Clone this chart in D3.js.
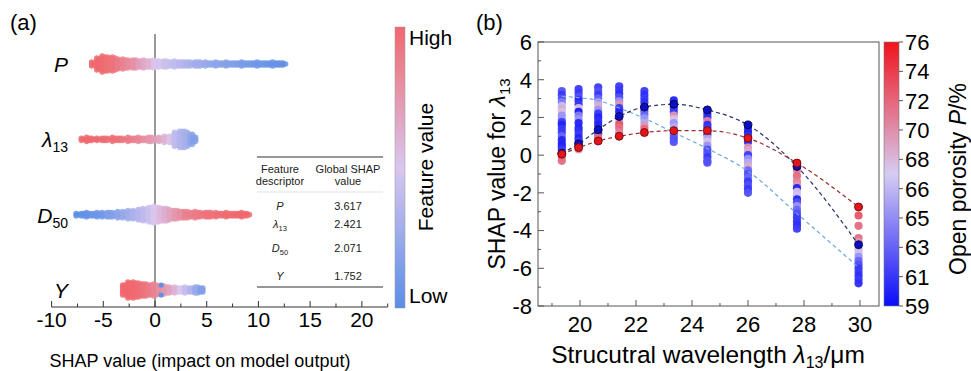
<!DOCTYPE html>
<html>
<head>
<meta charset="utf-8">
<script src="https://cdn.jsdelivr.net/npm/d3@7"></script>
<style>
  html, body { margin: 0; padding: 0; background: #fff; }
  svg { display: block; font-family: "Liberation Sans", Arial, sans-serif; }
</style>
</head>
<body>
<svg id="chart" width="971" height="371"></svg>
<script>
// ---------- Panel (a): SHAP summary (beeswarm) ----------
// Each bin: [SHAP value, number of samples, normalised feature value 0..1]
const swarmP = [
  [-6,5,1],[-5.5,13,1],[-5,17,0.98],[-4.5,15,0.96],[-4,15,0.94],[-3.5,11,0.9],[-3,11,0.86],
  [-2.5,9,0.82],[-2,10,0.78],[-1.5,8,0.72],[-1,9,0.66],[-0.5,8,0.6],[0,9,0.52],[0.5,7,0.48],
  [1,8,0.45],[1.5,6,0.42],[2,7,0.4],[2.5,6,0.37],[3,6,0.34],[3.5,5,0.31],[4,6,0.28],
  [4.5,5,0.26],[5,5,0.24],[5.5,4,0.22],[6,5,0.2],[6.5,4,0.18],[7,5,0.16],[7.5,4,0.15],
  [8,4,0.14],[8.5,5,0.12],[9,4,0.11],[9.5,4,0.1],[10,5,0.08],[10.5,4,0.07],[11,4,0.06],
  [11.5,5,0.05],[12,4,0.04],[12.5,3,0.03]
];
const swarmLambda = [
  [-7,3,1],[-6.5,5,1],[-6,3,1],[-5.5,3,1],[-5,4,0.98],[-4.5,3,0.97],[-4,5,0.96],[-3.5,4,0.95],
  [-3,3,0.93],[-2.5,5,0.9],[-2,4,0.87],[-1.5,5,0.84],[-1,4,0.8],[-0.5,6,0.76],[0,4,0.72],
  [0.5,5,0.66],[1,7,0.6],[1.5,8,0.52],[2,15,0.4],[2.5,18,0.34],[3,17,0.3],[3.5,12,0.22],[3.8,6,0.15]
];
const swarmD50 = [
  [-7.5,3,0],[-7,4,0.02],[-6.5,5,0.04],[-6,4,0.06],[-5.5,5,0.08],[-5,5,0.1],[-4.5,6,0.13],
  [-4,5,0.16],[-3.5,7,0.2],[-3,7,0.24],[-2.5,9,0.28],[-2,9,0.32],[-1.5,12,0.36],[-1,13,0.4],
  [-0.5,16,0.45],[0,17,0.5],[0.5,15,0.56],[1,14,0.62],[1.5,11,0.68],[2,10,0.75],[2.5,8,0.8],
  [3,8,0.85],[3.5,6,0.88],[4,7,0.9],[4.5,5,0.92],[5,6,0.94],[5.5,5,0.95],[6,5,0.96],
  [6.5,4,0.97],[7,5,0.98],[7.5,4,0.99],[8,4,1],[8.5,5,1],[9,3,1]
];
const swarmY = [
  [-3,12,1],[-2.5,17,1],[-2,17,0.99],[-1.5,15,0.97],[-1,14,0.94],[-0.5,12,0.9],[0,13,0.85],
  [0.5,10,0.8],[1,9,0.74],[1.5,7,0.68],[2,7,0.6],[2.5,6,0.5],[3,7,0.42],[3.5,6,0.34],
  [4,8,0.24],[4.5,6,0.15]
];
// isolated low-value samples sitting on the rim of the Y swarm: [SHAP, feature]
const swarmYRim = [[0.6,0.02],[0.6,0.02]];

const featureNames = ["P", "λ13", "D50", "Y"];
const globalShap = ["3.617", "2.421", "2.071", "1.752"];
const shapTicks = [-10, -5, 0, 5, 10, 15, 20];

// ---------- Panel (b): SHAP dependence for λ13 ----------
const wavelengths = [19.35, 19.95, 20.65, 21.4, 22.3, 23.35, 24.55, 26.0, 27.75, 29.95];
// per wavelength: [SHAP value, open porosity %]
const samplesByWavelength = [
  [[3.4,62],[3.2,61],[3.0,62],[2.8,64],[2.6,67],[2.45,69],[2.3,68],[2.1,65],[1.9,65],[1.75,61],[1.6,60],[1.4,61],[1.2,61],[1.0,63],[0.8,60],[0.6,60],[0.45,60],[0.3,61],[-0.1,71],[-0.3,72]],
  [[3.5,61],[3.3,61],[3.1,62],[2.9,60],[2.7,61],[2.5,68],[2.3,59.5],[2.1,64],[1.9,65],[1.7,60],[1.45,60],[1.3,60.5],[1.1,61],[0.9,60],[0.75,61],[0.3,70]],
  [[3.6,61],[3.4,62],[3.2,61],[3.0,63],[2.8,66],[2.6,69],[2.4,65],[2.2,61],[2.0,60],[1.8,60.5],[1.6,60],[1.15,61],[0.95,72]],
  [[3.65,61],[3.45,61],[3.25,60.5],[3.05,62],[2.85,65],[2.7,70],[2.5,61],[2.3,60],[1.85,68],[1.65,73],[1.45,72],[1.2,71]],
  [[3.4,61],[3.2,60.5],[3.0,61],[2.8,60.5],[2.35,62],[2.15,63],[1.95,65],[1.75,66],[1.55,70],[1.4,72]],
  [[2.9,60],[2.5,60.5],[2.3,61],[2.1,70],[1.9,68],[1.7,65],[1.5,66],[1.1,63],[0.9,62],[0.7,62]],
  [[2.2,60],[2.0,60.5],[1.8,71],[1.6,60.5],[1.45,61],[1.1,61],[0.9,66],[0.7,68],[0.5,65],[0.3,62],[0.1,62],[-0.1,61],[-0.3,62],[-0.4,62]],
  [[1.35,60.5],[1.2,60],[1.0,61],[0.7,60.5],[0.4,70],[0.2,69],[0.0,61],[-0.2,65],[-0.4,66],[-0.6,69],[-0.8,63],[-1.0,62],[-1.2,63],[-1.4,61],[-1.6,62],[-1.8,61],[-2.0,62]],
  [[-0.55,73],[-0.8,71],[-1.1,72],[-1.4,71],[-1.6,70],[-1.75,60],[-1.95,68],[-2.15,67],[-2.35,60],[-2.5,62],[-2.7,65],[-2.9,63],[-3.1,62],[-3.3,61],[-3.5,61],[-3.7,60.5],[-3.9,61]],
  [[-3.2,73],[-3.75,72],[-4.4,72],[-4.6,70],[-5.0,69],[-5.2,67],[-5.4,65],[-5.6,63],[-5.8,62],[-6.0,61],[-6.2,61],[-6.4,60.5],[-6.6,61],[-6.8,60.5]]
];
// fitted trends across wavelengths
const lowPorosityShap  = [0.1, 0.6, 1.35, 2.05, 2.55, 2.7, 2.4, 1.6, -0.6, -4.75];
const highPorosityShap = [0.05, 0.4, 0.75, 1.0, 1.2, 1.3, 1.3, 0.9, -0.42, -2.75];
const overallTrendShap = [3.12, 3.05, 2.9, 2.5, 1.95, 1.2, 0.35, -0.85, -3.1, -5.95];
const porosityTicks = ["76", "74", "72", "70", "68", "66", "65", "63", "61", "59"];

const svg = d3.select("#chart");
const defs = svg.append("defs");
defs.append("filter").attr("id", "soft").attr("x", "-5%").attr("y", "-30%").attr("width", "110%").attr("height", "160%")
  .append("feGaussianBlur").attr("stdDeviation", 0.45);

// ======================= Panel (a) =======================
const xA = d3.scaleLinear().domain([-10, 22.5]).range([51.6, 387.7]);
const rowY = d3.scalePoint().domain(featureNames).range([64, 290]);
const featColor = d3.scaleLinear().domain([0, 0.5, 1])
  .range(["#5b8ee6", "#d9c6ef", "#f0686d"]).interpolate(d3.interpolateRgb);

svg.append("text").attr("x", 10).attr("y", 30).attr("font-size", 22).text("(a)");

// zero reference line
svg.append("line").attr("x1", xA(0)).attr("x2", xA(0)).attr("y1", 34).attr("y2", 307)
  .attr("stroke", "#333").attr("stroke-width", 1);

function expandSwarm(bins, cy) {
  const dots = [];
  bins.forEach(([s, n, f]) => {
    const cols = [Math.ceil(n / 2), Math.floor(n / 2)];
    cols.forEach((m, c) => {
      for (let k = 0; k < m; k++) {
        dots.push({ x: xA(s) + (c ? 1.3 : -1.3), y: cy + (k - (m - 1) / 2) * 2, f });
      }
    });
  });
  return dots;
}

const swarmSets = [swarmP, swarmLambda, swarmD50, swarmY];
const gSwarm = svg.append("g").attr("filter", "url(#soft)");
swarmSets.forEach((bins, i) => {
  const cy = rowY(featureNames[i]);
  gSwarm.append("g").selectAll("circle").data(expandSwarm(bins, cy)).join("circle")
    .attr("cx", d => d.x).attr("cy", d => d.y).attr("r", 2.8)
    .attr("fill", d => featColor(d.f)).attr("fill-opacity", 0.85);
});
// rim samples of Y
{
  const cy = rowY("Y");
  const bin = swarmY.find(b => b[0] === 0.5);
  const half = (Math.ceil(bin[1] / 2) - 1);
  gSwarm.append("g").selectAll("circle").data(swarmYRim).join("circle")
    .attr("cx", d => xA(d[0])).attr("cy", (d, i) => cy + (i ? half : -half) + (i ? 1 : -1))
    .attr("r", 2.6).attr("fill", d => featColor(d[1]));
}

// feature labels on the left
function featureLabel(sel, name, subSize, shift) {
  const letter = name[0], sub = name.slice(1);
  sel.append("tspan").attr("font-style", "italic").text(letter);
  if (sub) sel.append("tspan").attr("dy", shift).attr("font-size", subSize).text(sub);
}
featureNames.forEach(name => {
  const t = svg.append("text").attr("x", 68).attr("y", rowY(name) + 8)
    .attr("text-anchor", "end").attr("font-size", 21);
  featureLabel(t, name, 14, 5);
});

// x axis (ticks pointing up)
const gAxA = svg.append("g").attr("transform", "translate(0,307)");
gAxA.append("line").attr("x1", xA(-10)).attr("x2", xA(22.5)).attr("stroke", "#333");
gAxA.selectAll("line.maj").data(shapTicks).join("line").attr("class", "maj")
  .attr("x1", d => xA(d)).attr("x2", d => xA(d)).attr("y1", 0).attr("y2", -6).attr("stroke", "#333");
gAxA.selectAll("line.min").data(d3.range(-7.5, 23, 5)).join("line").attr("class", "min")
  .attr("x1", d => xA(d)).attr("x2", d => xA(d)).attr("y1", 0).attr("y2", -3.5).attr("stroke", "#333");
gAxA.selectAll("text").data(shapTicks).join("text")
  .attr("x", d => xA(d)).attr("y", 20).attr("text-anchor", "middle").attr("font-size", 21)
  .text(d => String(d));
svg.append("text").attr("x", 200).attr("y", 367).attr("text-anchor", "middle").attr("font-size", 18)
  .text("SHAP value (impact on model output)");

// table of global SHAP importance
const tbl = svg.append("g").attr("font-size", 11).attr("fill", "#222");
tbl.append("line").attr("x1", 257).attr("x2", 383).attr("y1", 157).attr("y2", 157).attr("stroke", "#333").attr("stroke-width", 1.2);
tbl.append("line").attr("x1", 257).attr("x2", 383).attr("y1", 192).attr("y2", 192).attr("stroke", "#ccc").attr("stroke-width", 0.6);
tbl.append("line").attr("x1", 257).attr("x2", 383).attr("y1", 287).attr("y2", 287).attr("stroke", "#333").attr("stroke-width", 1.2);
[["Feature", 173], ["descriptor", 185]].forEach(([s, y]) =>
  tbl.append("text").attr("x", 280).attr("y", y).attr("text-anchor", "middle").text(s));
[["Global SHAP", 173], ["value", 185]].forEach(([s, y]) =>
  tbl.append("text").attr("x", 348).attr("y", y).attr("text-anchor", "middle").text(s));
const tableRowY = [210, 228, 252, 280];
featureNames.forEach((name, i) => {
  const t = tbl.append("text").attr("x", 280).attr("y", tableRowY[i]).attr("text-anchor", "middle");
  featureLabel(t, name, 7.5, 3);
  tbl.append("text").attr("x", 348).attr("y", tableRowY[i]).attr("text-anchor", "middle").text(globalShap[i]);
});

// feature value colour bar
const gradA = defs.append("linearGradient").attr("id", "gradA").attr("x1", 0).attr("x2", 0).attr("y1", 1).attr("y2", 0);
d3.range(0, 1.0001, 0.1).forEach(t => gradA.append("stop").attr("offset", t).attr("stop-color", featColor(t)));
svg.append("rect").attr("x", 395).attr("y", 27).attr("width", 10).attr("height", 281)
  .attr("fill", "url(#gradA)").attr("stroke", "#999").attr("stroke-width", 0.5);
svg.append("text").attr("x", 409).attr("y", 45).attr("font-size", 21).text("High");
svg.append("text").attr("x", 409).attr("y", 303).attr("font-size", 21).text("Low");
svg.append("text").attr("transform", "translate(433,167) rotate(-90)").attr("text-anchor", "middle")
  .attr("font-size", 21).text("Feature value");

// ======================= Panel (b) =======================
const xB = d3.scaleLinear().domain([18.5, 30.68]).range([538, 879]);
const yB = d3.scaleLinear().domain([-8, 6]).range([306, 42]);
const poroColor = d3.scaleLinear().domain([59, 67.5, 76])
  .range(["#0a0cf8", "#d6ccf2", "#f0141c"]).interpolate(d3.interpolateRgb);

svg.append("text").attr("x", 476).attr("y", 30).attr("font-size", 22).text("(b)");

// frame
svg.append("rect").attr("x", xB.range()[0]).attr("y", yB.range()[1])
  .attr("width", xB.range()[1] - xB.range()[0]).attr("height", yB.range()[0] - yB.range()[1])
  .attr("fill", "none").attr("stroke", "#555").attr("stroke-width", 1);

// inward ticks
const gB = svg.append("g").attr("stroke", "#555");
const xMaj = d3.range(20, 31, 2), xMin = d3.range(19, 30, 2);
const yMaj = d3.range(-8, 7, 2), yMin = d3.range(-7, 6, 2);
gB.selectAll("line.xM").data(xMaj).join("line").attr("class", "xM")
  .attr("x1", d => xB(d)).attr("x2", d => xB(d)).attr("y1", 306).attr("y2", 300);
gB.selectAll("line.xm").data(xMin).join("line").attr("class", "xm")
  .attr("x1", d => xB(d)).attr("x2", d => xB(d)).attr("y1", 306).attr("y2", 303);
gB.selectAll("line.yM").data(yMaj).join("line").attr("class", "yM")
  .attr("x1", 538).attr("x2", 544).attr("y1", d => yB(d)).attr("y2", d => yB(d));
gB.selectAll("line.ym").data(yMin).join("line").attr("class", "ym")
  .attr("x1", 538).attr("x2", 541).attr("y1", d => yB(d)).attr("y2", d => yB(d));

svg.append("g").selectAll("text").data(xMaj).join("text")
  .attr("x", d => xB(d)).attr("y", 332).attr("text-anchor", "middle").attr("font-size", 22).text(d => String(d));
svg.append("g").selectAll("text").data(yMaj).join("text")
  .attr("x", 532).attr("y", d => yB(d)).attr("dy", "0.36em").attr("text-anchor", "end")
  .attr("font-size", 22).text(d => String(d));

// axis titles
{
  const t = svg.append("text").attr("transform", "translate(505,174) rotate(-90)")
    .attr("text-anchor", "middle").attr("font-size", 23);
  t.append("tspan").text("SHAP value for ");
  t.append("tspan").attr("font-style", "italic").text("λ");
  t.append("tspan").attr("dy", 5).attr("font-size", 15).text("13");
}
{
  const t = svg.append("text").attr("x", 708).attr("y", 363)
    .attr("text-anchor", "middle").attr("font-size", 24.5);
  t.append("tspan").text("Strucutral wavelength ");
  t.append("tspan").attr("font-style", "italic").text("λ");
  t.append("tspan").attr("dy", 5).attr("font-size", 16).text("13");
  t.append("tspan").attr("dy", -5).text("/μm");
}

// scattered samples
const pts = [];
wavelengths.forEach((w, i) => samplesByWavelength[i].forEach(([s, p]) => pts.push({ w, s, p })));
svg.append("g").selectAll("circle").data(pts).join("circle")
  .attr("cx", d => xB(d.w)).attr("cy", d => yB(d.s)).attr("r", 4.1)
  .attr("fill", d => poroColor(d.p)).attr("fill-opacity", 0.95);

// trend curves
const line = d3.line().x((d, i) => xB(wavelengths[i])).y(d => yB(d)).curve(d3.curveMonotoneX);
[[overallTrendShap, "#6fa8dc"], [lowPorosityShap, "#28306c"], [highPorosityShap, "#9c2c2c"]].forEach(([arr, c]) => {
  svg.append("path").attr("d", line(arr)).attr("fill", "none").attr("stroke", c)
    .attr("stroke-width", 1.2).attr("stroke-dasharray", "4,3");
});

// highlighted low / high porosity series
svg.append("g").selectAll("circle").data(lowPorosityShap).join("circle")
  .attr("cx", (d, i) => xB(wavelengths[i])).attr("cy", d => yB(d)).attr("r", 4)
  .attr("fill", "#0b0fc0").attr("stroke", "#05054a").attr("stroke-width", 0.9);
svg.append("g").selectAll("circle").data(highPorosityShap).join("circle")
  .attr("cx", (d, i) => xB(wavelengths[i])).attr("cy", d => yB(d)).attr("r", 4)
  .attr("fill", "#e3141a").attr("stroke", "#6e0a0a").attr("stroke-width", 0.9);

// porosity colour bar
const gradB = defs.append("linearGradient").attr("id", "gradB").attr("x1", 0).attr("x2", 0).attr("y1", 1).attr("y2", 0);
d3.range(0, 1.0001, 0.05).forEach(t => gradB.append("stop").attr("offset", t)
  .attr("stop-color", poroColor(59 + t * 17)));
svg.append("rect").attr("x", 884).attr("y", 42).attr("width", 15).attr("height", 264)
  .attr("fill", "url(#gradB)").attr("stroke", "#777").attr("stroke-width", 0.6);
const cbY = d3.scalePoint().domain(porosityTicks).range([42, 306]);
svg.append("g").selectAll("line").data(porosityTicks).join("line")
  .attr("x1", 899).attr("x2", 903).attr("y1", d => cbY(d)).attr("y2", d => cbY(d)).attr("stroke", "#555");
svg.append("g").selectAll("text").data(porosityTicks).join("text")
  .attr("x", 905).attr("y", d => cbY(d)).attr("dy", "0.36em").attr("font-size", 22).text(d => d);
{
  const t = svg.append("text").attr("transform", "translate(966,179) rotate(-90)")
    .attr("text-anchor", "middle").attr("font-size", 23);
  t.append("tspan").text("Open porosity ");
  t.append("tspan").attr("font-style", "italic").text("P");
  t.append("tspan").text("/%");
}
</script>
</body>
</html>
